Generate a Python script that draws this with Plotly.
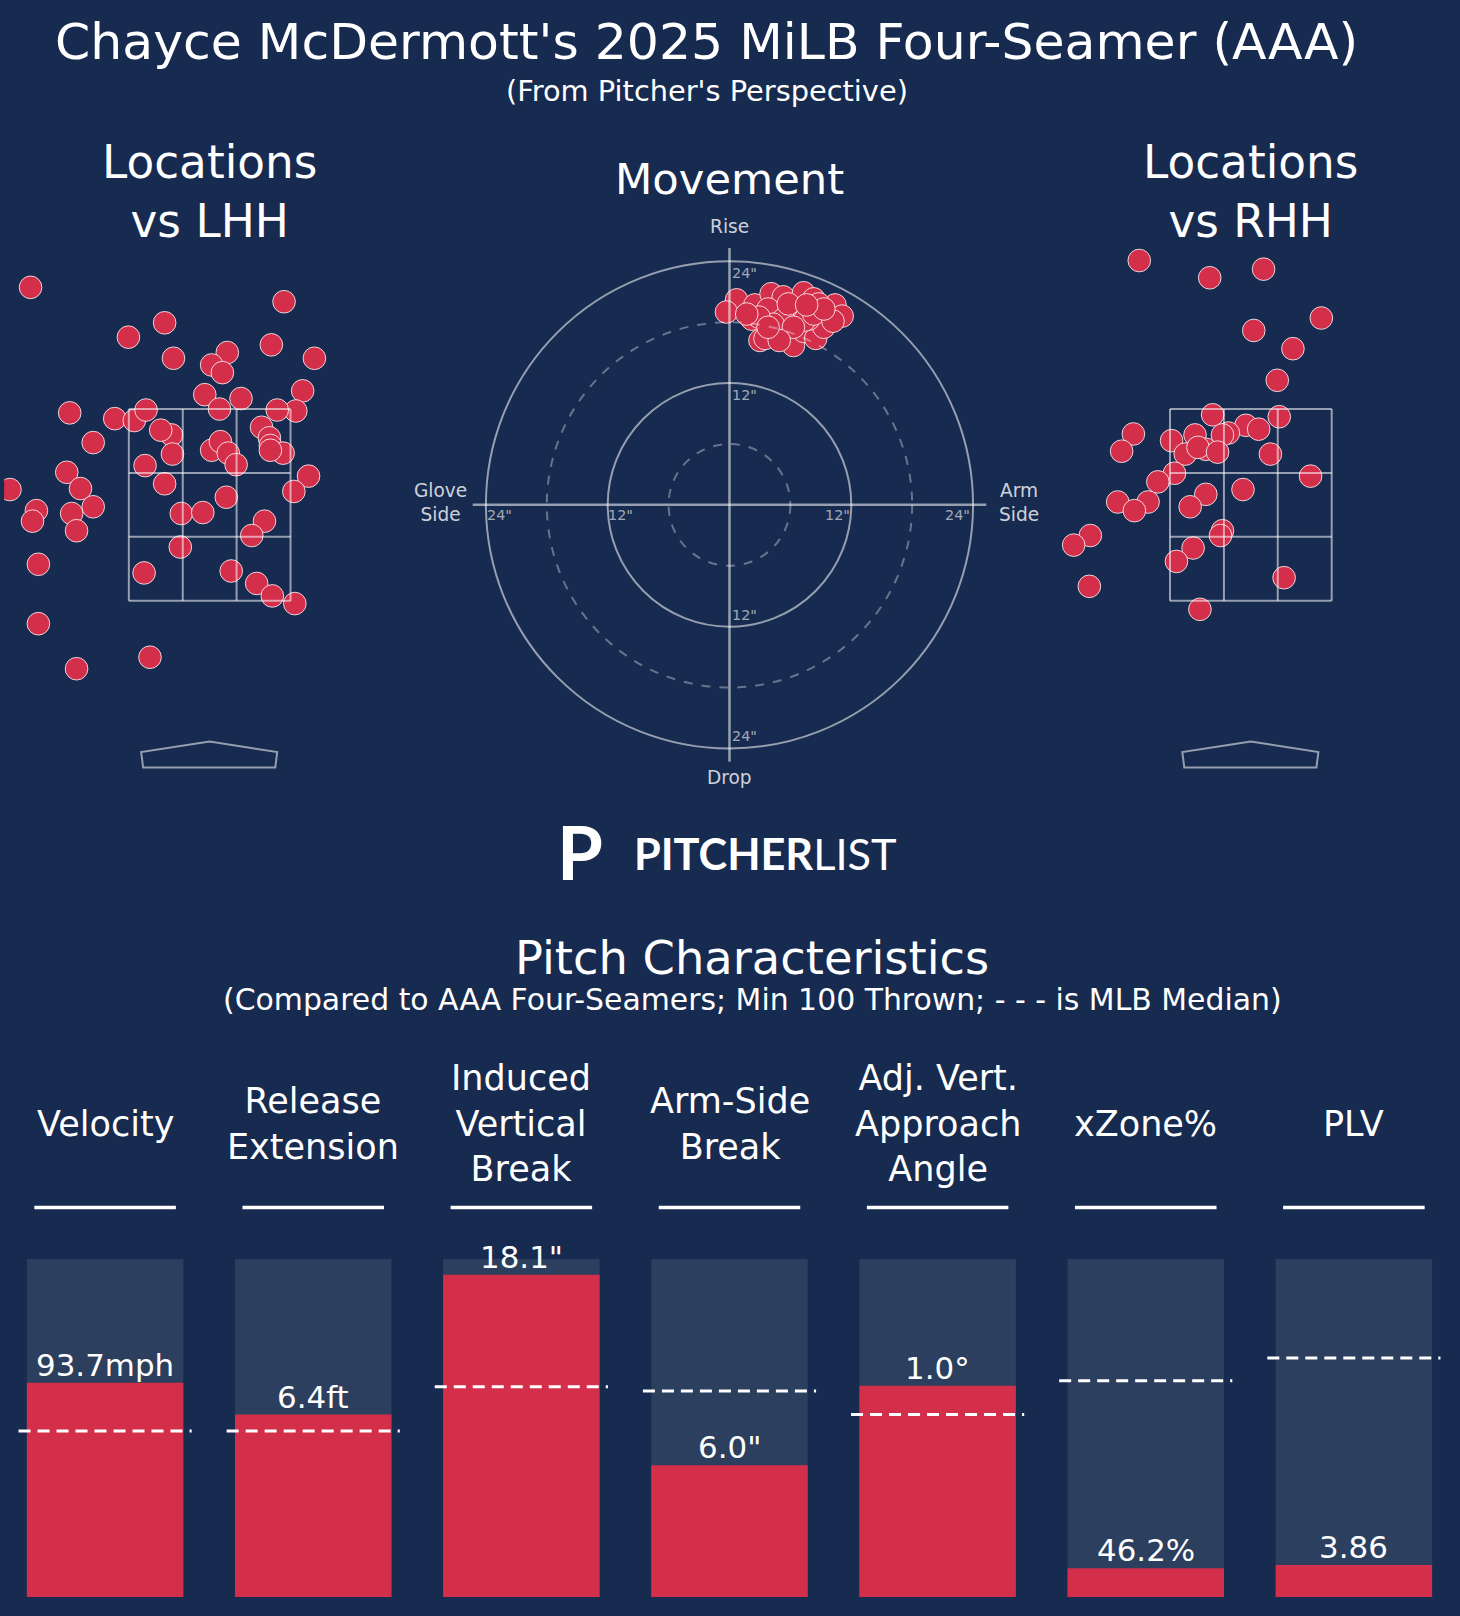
import plotly.graph_objects as go

W, H = 1460, 1616
S = 1460 / 1417  # layout positions below measured at 1417-px scale
BG = "#172a4f"
RED = "#d32e4a"
BARBG = "#2d3f5e"
GRID = "rgba(255,255,255,0.55)"
FONT = "DejaVu Sans"

# Locations vs LHH (plate_x ft, plate_z ft, pitcher's perspective)
lhh_x = [-1.83,0.76,-0.46,-0.83,0.63,1.07,-0.37,0.18,0.02,0.13,0.95,-0.05,0.32,0.10,0.88,0.69,-1.43,-0.97,-0.77,-0.65,
         -0.39,-0.50,0.53,0.61,0.62,0.75,-1.19,-0.38,0.02,0.11,0.19,0.27,0.62,-0.66,-1.46,1.01,-0.46,-1.32,0.86,0.17,
         -1.19,-1.77,-1.81,-1.41,-1.36,-0.29,-0.07,0.56,0.43,-0.30,-1.75,-0.67,0.22,0.48,0.64,0.87,-1.75,-0.61,-1.36,-2.04]
lhh_z = [4.77,4.62,4.40,4.25,4.17,4.03,4.03,4.09,3.96,3.88,3.69,3.65,3.61,3.50,3.48,3.49,3.46,3.40,3.38,3.49,
         3.23,3.28,3.31,3.20,3.12,3.04,3.15,3.03,3.07,3.16,3.04,2.92,3.07,2.91,2.84,2.80,2.72,2.67,2.64,2.58,
         2.48,2.44,2.33,2.41,2.23,2.41,2.42,2.33,2.18,2.06,1.88,1.79,1.81,1.68,1.55,1.47,1.26,0.91,0.79,2.66]
# Locations vs RHH
rhh_x = [-1.14,-0.42,0.13,0.72,0.03,0.43,0.27,-0.39,0.29,-0.05,0.08,-0.23,-1.20,-0.57,-0.81,-0.29,-1.32,-0.67,-0.46,-0.54,
         -0.34,0.20,-0.78,-0.95,0.61,-0.08,-0.46,-0.62,-1.36,-1.05,-1.19,-1.64,-1.81,-0.29,-0.31,-0.59,-0.76,-1.65,0.34,-0.52]
rhh_z = [5.05,4.87,4.96,4.45,4.32,4.13,3.80,3.44,3.42,3.33,3.29,3.25,3.24,3.23,3.17,3.23,3.06,3.03,3.08,3.10,
         3.05,3.03,2.83,2.74,2.80,2.66,2.61,2.48,2.53,2.53,2.44,2.18,2.08,2.23,2.18,2.05,1.91,1.65,1.74,1.41]
# Movement (inches): horizontal break (arm side +), induced vertical break
hb = [0.7,-0.3,2.5,4.1,5.3,7.3,8.3,10.4,11.1,8.8,6.3,3.8,2.2,3.0,3.5,4.8,5.8,6.3,7.3,8.5,9.3,7.8,6.8,5.3,4.3,2.9,7.4,5.8,8.3,10.2,6.3,4.9,3.8,9.3,7.6,1.7]
ivb = [20.2,19.0,19.7,20.8,20.5,20.9,20.3,19.7,18.6,19.8,19.3,19.3,18.3,16.2,16.4,17.5,16.8,15.7,17.1,16.4,17.5,18.3,18.8,18.3,17.8,18.5,18.2,19.8,18.8,18.1,17.5,16.2,17.5,19.3,19.7,18.8]

# Pitch characteristics
metrics = ["Velocity", "Release<br>Extension", "Induced<br>Vertical<br>Break", "Arm-Side<br>Break",
           "Adj. Vert.<br>Approach<br>Angle", "xZone%", "PLV"]
value_labels = ["93.7mph", "6.4ft", "18.1\"", "6.0\"", "1.0°", "46.2%", "3.86"]
percentiles = [0.634, 0.54, 0.954, 0.39, 0.625, 0.085, 0.095]
medians = [0.491, 0.491, 0.622, 0.61, 0.54, 0.64, 0.707]

def py(p):
    return 1 - p * S / H

def pxf(p):
    return p * S / W

def fs(s):
    return s * S

fig = go.Figure()
mk = dict(color=RED, size=fs(22), line=dict(color="white", width=0.8))
fig.add_trace(go.Scatter(x=lhh_x, y=lhh_z, mode="markers", marker=mk, xaxis="x", yaxis="y", showlegend=False))
fig.add_trace(go.Scatter(x=rhh_x, y=rhh_z, mode="markers", marker=mk, xaxis="x3", yaxis="y3", showlegend=False))
fig.add_trace(go.Scatter(x=hb, y=ivb, mode="markers", marker=mk, xaxis="x2", yaxis="y2", showlegend=False))

idx = list(range(len(metrics)))
fig.add_trace(go.Bar(x=idx, y=[1]*len(idx), marker=dict(color=BARBG, line=dict(width=0)), width=0.752,
                     xaxis="x4", yaxis="y4", showlegend=False, hoverinfo="skip"))
fig.add_trace(go.Bar(x=idx, y=percentiles, marker=dict(color=RED, line=dict(width=0)), width=0.752,
                     xaxis="x4", yaxis="y4", showlegend=False))
fig.update_layout(barmode="overlay")

noax = dict(visible=False, showgrid=False, zeroline=False, fixedrange=True)
loc_yr = [-0.5, 5.3]
loc_ydom = [py(583 + 2.0 * 93), py(583 - 3.8 * 93)]
x4_lo = -0.505
x4_hi = x4_lo + (1417 / 202)
fig.update_layout(
    width=W, height=H, margin=dict(l=0, r=0, t=0, b=0),
    paper_bgcolor=BG, plot_bgcolor="rgba(0,0,0,0)",
    font=dict(family=FONT, color="white"),
    xaxis=dict(noax, range=[-2.1, 2.1], domain=[pxf(203.5 - 199.5), pxf(203.5 + 199.5)]),
    yaxis=dict(noax, range=loc_yr, domain=loc_ydom),
    xaxis3=dict(noax, range=[-2.1, 2.1], domain=[pxf(1214 - 199.5), pxf(1214 + 199.5)]),
    yaxis3=dict(noax, range=loc_yr, domain=loc_ydom),
    xaxis2=dict(noax, range=[-33.3, 33.3], domain=[pxf(380), pxf(1036)]),
    yaxis2=dict(noax, range=[-29.44, 29.44], domain=[py(780), py(200)]),
    xaxis4=dict(noax, range=[x4_lo, x4_hi], domain=[0, 1]),
    yaxis4=dict(noax, range=[0, 1], domain=[py(1550), py(1222)]),
)

shapes = []
line_c = dict(color=GRID, width=2)
for xa, ya in [("x", "y"), ("x3", "y3")]:
    zx = [-0.826, -0.275, 0.275, 0.826]
    zz = [1.5, 2.167, 2.833, 3.5]
    for v in zx:
        shapes.append(dict(type="line", xref=xa, yref=ya, x0=v, x1=v, y0=1.5, y1=3.5, line=line_c))
    for v in zz:
        shapes.append(dict(type="line", xref=xa, yref=ya, x0=-0.826, x1=0.826, y0=v, y1=v, line=line_c))
    shapes.append(dict(type="path", xref=xa, yref=ya, line=line_c,
                       path="M -0.68,-0.24 L -0.70,-0.08 L 0,0.03 L 0.69,-0.08 L 0.67,-0.24 Z"))
for r, dash in [(6, "dash"), (12, "solid"), (18, "dash"), (24, "solid")]:
    shapes.append(dict(type="circle", xref="x2", yref="y2", x0=-r, x1=r, y0=-r, y1=r,
                       line=dict(color=GRID if dash == "solid" else "rgba(255,255,255,0.35)", width=2, dash=dash)))
shapes.append(dict(type="line", xref="x2", yref="y2", x0=-25.3, x1=25.3, y0=0, y1=0, line=dict(color=GRID, width=2.5)))
shapes.append(dict(type="line", xref="x2", yref="y2", x0=0, x1=0, y0=-25.3, y1=25.3, line=dict(color=GRID, width=2.5)))
for i in idx:
    shapes.append(dict(type="line", xref="x4", yref="paper", x0=i - 0.34, x1=i + 0.34, y0=py(1172), y1=py(1172),
                       line=dict(color="white", width=3.5)))
    shapes.append(dict(type="line", xref="x4", yref="y4", x0=i - 0.416, x1=i + 0.416, y0=medians[i], y1=medians[i],
                       line=dict(color="white", width=3, dash="12px,7px"), layer="above"))
fig.update_layout(shapes=shapes)

ann = []
def A(x, y, text, size, xref="paper", yref="paper", color="white", family=FONT, xanchor="center", yanchor="middle", **kw):
    ann.append(dict(x=x, y=y, xref=xref, yref=yref, text=text, showarrow=False, xanchor=xanchor, yanchor=yanchor,
                    font=dict(size=fs(size), color=color, family=family), **kw))

A(pxf(686), py(40), "Chayce McDermott's 2025 MiLB Four-Seamer (AAA)", 49)
A(pxf(686), py(88), "(From Pitcher's Perspective)", 28)
A(pxf(203), py(186), "Locations<br>vs LHH", 44)
A(pxf(1214), py(186), "Locations<br>vs RHH", 44)
A(pxf(708), py(174), "Movement", 42)
lab = "rgba(255,255,255,0.8)"
A(0, 27.4, "Rise", 18, "x2", "y2", lab)
A(0, -26.9, "Drop", 18, "x2", "y2", lab)
A(-28.5, 0.2, "Glove<br>Side", 18, "x2", "y2", lab)
A(28.5, 0.2, "Arm<br>Side", 18, "x2", "y2", lab)
small = "rgba(255,255,255,0.6)"
for (x, y) in [(1.5, 22.8), (1.5, 10.8), (1.5, -10.9), (1.5, -22.8)]:
    A(x, y, "24\"" if abs(y) > 20 else "12\"", 14, "x2", "y2", small)
for (x, y) in [(-22.7, -1.0), (-10.7, -1.0), (10.6, -1.0), (22.5, -1.0)]:
    A(x, y, "24\"" if abs(x) > 20 else "12\"", 14, "x2", "y2", small)
A(pxf(563), py(826), "<b>P</b>", 72, family="Lato")
A(pxf(743), py(828), "<b>PITCHER</b>LIST", 42, family="Lato")
A(pxf(730), py(930), "Pitch Characteristics", 45)
A(pxf(730), py(970), "(Compared to AAA Four-Seamers; Min 100 Thrown; - - - is MLB Median)", 29)
for i in idx:
    A(i, py(1090), metrics[i], 34, "x4", "paper")
    A(i, percentiles[i], value_labels[i], 30, "x4", "y4", yanchor="bottom", yshift=-2)
fig.update_layout(annotations=ann)

fig.write_html("out.html", config={"displayModeBar": False},
               post_script="document.body.style.margin='0';document.body.style.overflow='hidden';")
